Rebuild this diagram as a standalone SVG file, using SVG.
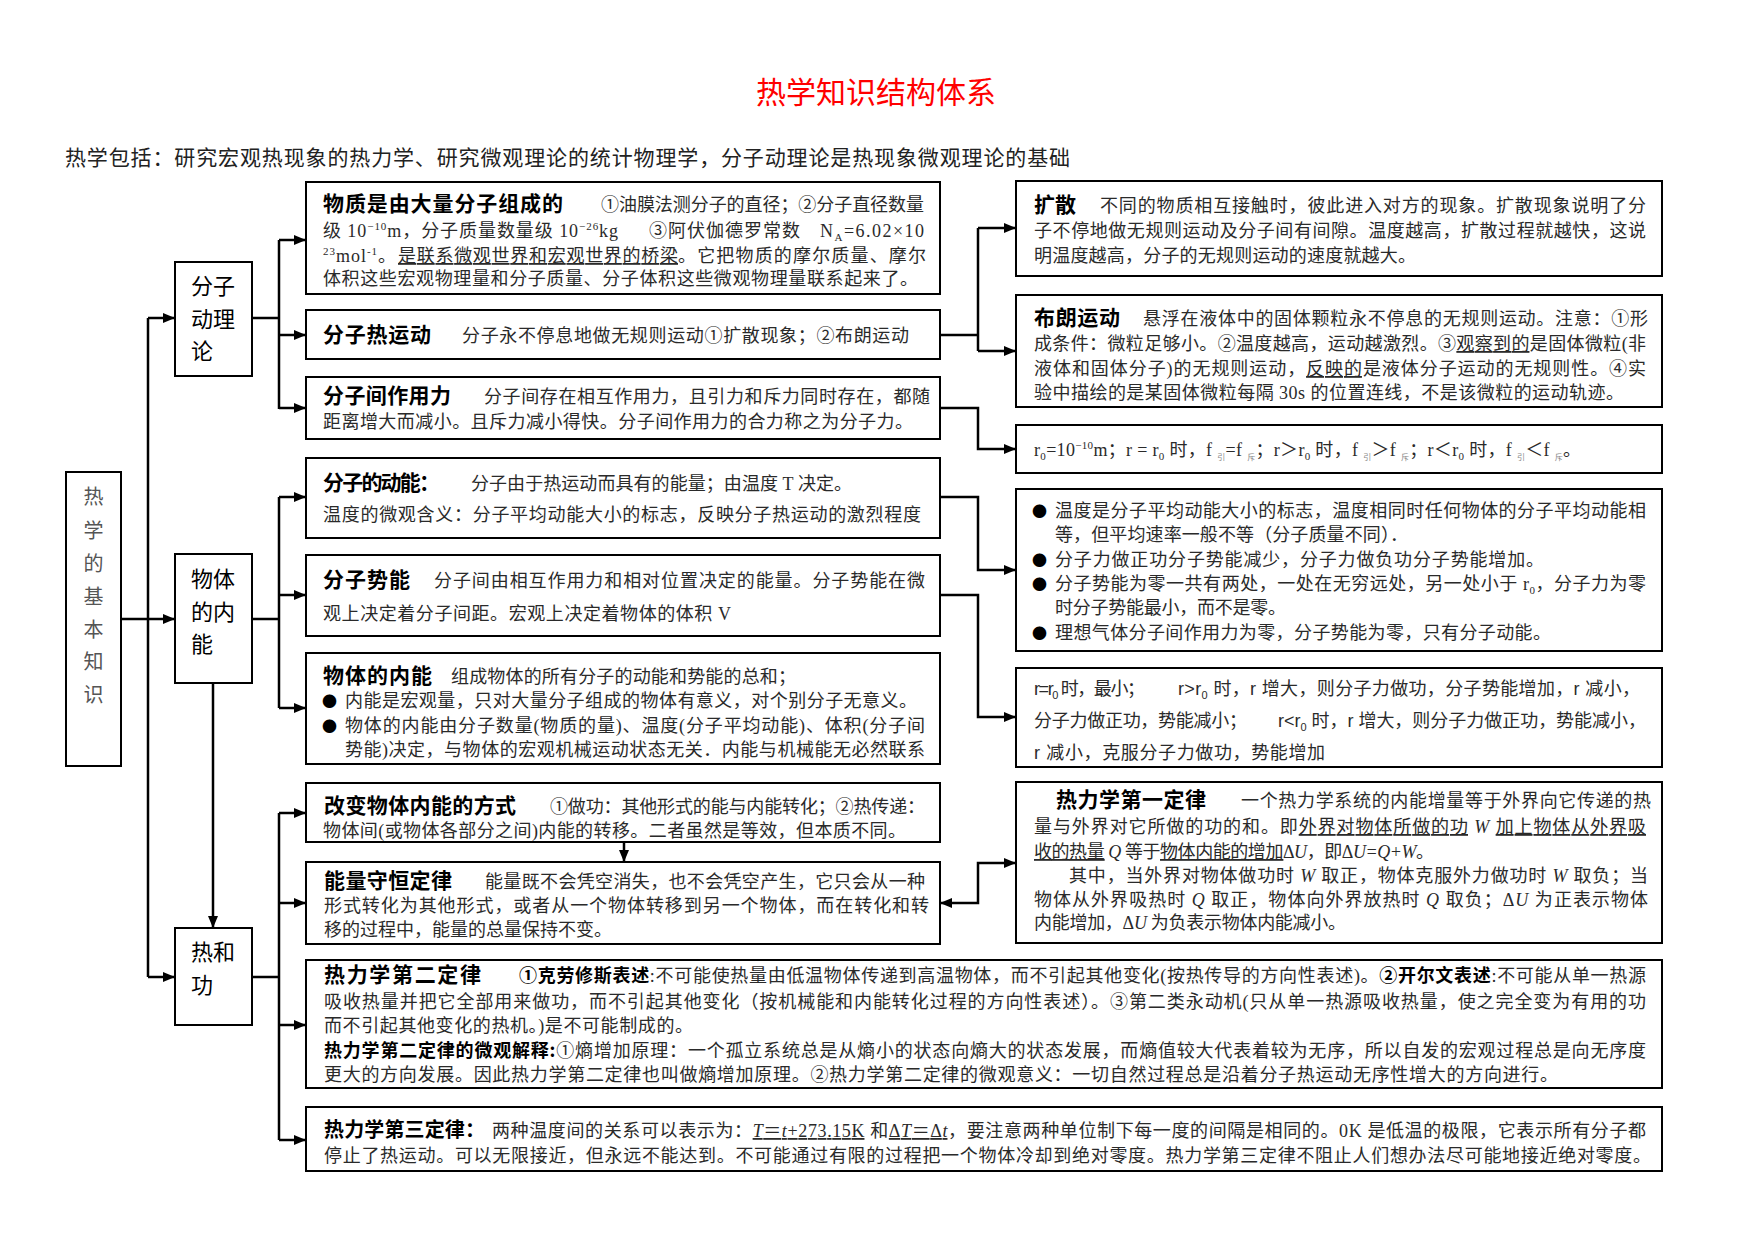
<svg xmlns="http://www.w3.org/2000/svg" width="1754" height="1241" viewBox="0 0 1754 1241">
<style>
.box{fill:#fff;stroke:#000;stroke-width:2}
.c{fill:none;stroke:#000;stroke-width:2.5}
.ca{fill:none;stroke:#000;stroke-width:2.5;marker-end:url(#ah)}
.t{font-family:"Liberation Serif","Noto Sans CJK SC",serif;font-size:18px;fill:#2a2a2a}
.s{font-family:"Liberation Sans","Noto Sans CJK SC",sans-serif;font-size:18px;fill:#2a2a2a}
.h{font-family:"Noto Sans CJK SC",sans-serif;font-weight:bold;font-size:21px;fill:#000}
.b{font-family:"Noto Sans CJK SC",sans-serif;font-weight:bold;fill:#000}
.lbl{font-family:"Noto Sans CJK SC",sans-serif;font-size:22px;fill:#000}
.main{font-family:"Noto Sans CJK SC",sans-serif;font-size:20px;fill:#555}
.u{text-decoration:underline}
.uw{text-decoration:underline wavy}
.ud{text-decoration:underline dotted}
.i{font-style:italic}
.bul{font-family:"Noto Sans CJK SC",sans-serif;font-size:15px;fill:#000}
</style>
<defs>
<marker id="ah" viewBox="0 0 12 10" refX="12" refY="5" markerWidth="12" markerHeight="10" markerUnits="userSpaceOnUse" orient="auto-start-reverse"><path d="M0,0 L12,5 L0,10 z" fill="#000"/></marker>
</defs>
<rect width="1754" height="1241" fill="#fff"/>

<g id="title">
<text x="876" y="103" text-anchor="middle" style="font-family:'Noto Sans CJK SC',sans-serif;font-size:30px;fill:#f00">热学知识结构体系</text>
<text x="65" y="165" textLength="1005" style="font-family:'Noto Sans CJK SC',sans-serif;font-size:21px;fill:#222">热学包括：研究宏观热现象的热力学、研究微观理论的统计物理学，分子动理论是热现象微观理论的基础</text>
</g>

<g id="connectors">
<path class="c" d="M148,318 V977"/>
<path class="ca" d="M121,619 H175"/>
<path class="ca" d="M148,318 H175"/>
<path class="ca" d="M148,977 H175"/>
<path class="ca" d="M213,683 V928"/>
<path class="c" d="M252,318 H279 M279,240 V409"/>
<path class="ca" d="M279,240 H306"/>
<path class="ca" d="M279,335 H306"/>
<path class="ca" d="M279,408 H306"/>
<path class="c" d="M252,619 H279 M279,497 V708"/>
<path class="ca" d="M279,497 H306"/>
<path class="ca" d="M279,595 H306"/>
<path class="ca" d="M279,708 H306"/>
<path class="c" d="M252,977 H279 M279,813 V1140"/>
<path class="ca" d="M279,813 H306"/>
<path class="ca" d="M279,903 H306"/>
<path class="ca" d="M279,1025 H306"/>
<path class="ca" d="M279,1140 H306"/>
<path class="ca" d="M624,842 V862"/>
<path class="c" d="M940,335 H978 M978,228 V351"/>
<path class="ca" d="M978,228 H1016"/>
<path class="ca" d="M978,351 H1016"/>
<path class="ca" d="M940,408 H978 V449 H1016"/>
<path class="ca" d="M940,497 H978 V570 H1016"/>
<path class="ca" d="M940,595 H978 V717 H1016"/>
<path class="ca" d="M1016,863 H978 V903 H940" style="marker-start:url(#ah)"/>
</g>

<g id="n-main">
<rect class="box" x="66" y="472" width="55" height="294"/>
<text class="main" x="93.5" text-anchor="middle"><tspan x="93.5" y="504">热</tspan><tspan x="93.5" y="538">学</tspan><tspan x="93.5" y="571">的</tspan><tspan x="93.5" y="604">基</tspan><tspan x="93.5" y="637">本</tspan><tspan x="93.5" y="669">知</tspan><tspan x="93.5" y="702">识</tspan></text>
</g>

<g id="n-fzdll">
<rect class="box" x="175" y="262" width="77" height="114"/>
<text class="lbl"><tspan x="191" y="294">分子</tspan><tspan x="191" y="327">动理</tspan><tspan x="191" y="359">论</tspan></text>
</g>

<g id="n-wtdnn">
<rect class="box" x="175" y="554" width="77" height="129"/>
<text class="lbl"><tspan x="191" y="587">物体</tspan><tspan x="191" y="620">的内</tspan><tspan x="191" y="652">能</tspan></text>
</g>

<g id="n-rhg">
<rect class="box" x="175" y="928" width="77" height="97"/>
<text class="lbl"><tspan x="191" y="960">热和</tspan><tspan x="191" y="993">功</tspan></text>
</g>

<g id="m1">
<rect class="box" x="306" y="182" width="634" height="112"/>
<text class="h" x="323" y="211" textLength="240">物质是由大量分子组成的</text>
<text class="t" x="601" y="211" textLength="323">①油膜法测分子的直径；②分子直径数量</text>
<text class="t" x="323" y="237" textLength="295">级 10<tspan dy="-7" font-size="11">−10</tspan><tspan dy="7">m，分子质量数量级 10</tspan><tspan dy="-7" font-size="11">−26</tspan><tspan dy="7">kg</tspan></text>
<text class="t" x="649" y="237" textLength="151">③阿伏伽德罗常数</text>
<text class="t" x="820" y="237" textLength="104">N<tspan dy="4" font-size="11">A</tspan><tspan dy="-4">=6.02×10</tspan></text>
<text class="t" x="323" y="262" textLength="73"><tspan dy="-7" font-size="11">23</tspan><tspan dy="7">mol</tspan><tspan dy="-7" font-size="11">-1</tspan><tspan dy="7">。</tspan></text>
<text class="t u" x="398" y="262" textLength="280">是联系微观世界和宏观世界的桥梁</text>
<text class="t" x="678" y="262" textLength="248">。它把物质的摩尔质量、摩尔</text>
<text class="t" x="323" y="285" textLength="595">体积这些宏观物理量和分子质量、分子体积这些微观物理量联系起来了。</text>
</g>

<g id="m2">
<rect class="box" x="306" y="310" width="634" height="49"/>
<text class="h" x="323" y="342" textLength="108">分子热运动</text>
<text class="t" x="462" y="342" textLength="447">分子永不停息地做无规则运动①扩散现象；②布朗运动</text>
</g>

<g id="m3">
<rect class="box" x="306" y="377" width="634" height="62"/>
<text class="h" x="323" y="403" textLength="128">分子间作用力</text>
<text class="t" x="484" y="403" textLength="446">分子间存在相互作用力，且引力和斥力同时存在，都随</text>
<text class="t" x="323" y="428" textLength="590">距离增大而减小。且斥力减小得快。分子间作用力的合力称之为分子力。</text>
</g>

<g id="m4">
<rect class="box" x="306" y="458" width="634" height="80"/>
<text class="h" x="323" y="490" textLength="117">分子的动能：</text>
<text class="t" x="471" y="490" textLength="381">分子由于热运动而具有的能量；由温度 T 决定。</text>
<text class="t" x="323" y="521" textLength="598">温度的微观含义：分子平均动能大小的标志，反映分子热运动的激烈程度</text>
</g>

<g id="m5">
<rect class="box" x="306" y="555" width="634" height="81"/>
<text class="h" x="323" y="587" textLength="87">分子势能</text>
<text class="t" x="434" y="587" textLength="491">分子间由相互作用力和相对位置决定的能量。分子势能在微</text>
<text class="t" x="323" y="620" textLength="408">观上决定着分子间距。宏观上决定着物体的体积 V</text>
</g>

<g id="m6">
<rect class="box" x="306" y="653" width="634" height="111"/>
<text class="h" x="323" y="683" textLength="109">物体的内能</text>
<text class="t" x="451" y="683" textLength="345">组成物体的所有分子的动能和势能的总和；</text>
<text class="bul" x="322" y="707">●</text>
<text class="t" x="345" y="707" textLength="572">内能是宏观量，只对大量分子组成的物体有意义，对个别分子无意义。</text>
<text class="bul" x="322" y="732">●</text>
<text class="t" x="345" y="732" textLength="580">物体的内能由分子数量(物质的量)、温度(分子平均动能)、体积(分子间</text>
<text class="t" x="345" y="756" textLength="580">势能)决定，与物体的宏观机械运动状态无关．内能与机械能无必然联系</text>
</g>

<g id="m7">
<rect class="box" x="306" y="783" width="634" height="59"/>
<text class="h" x="324" y="813" textLength="192">改变物体内能的方式</text>
<text class="t" x="550" y="813" textLength="375">①做功：其他形式的能与内能转化；②热传递：</text>
<text class="t" x="323" y="837" textLength="583">物体间(或物体各部分之间)内能的转移。二者虽然是等效，但本质不同。</text>
</g>

<g id="m8">
<rect class="box" x="306" y="862" width="634" height="82"/>
<text class="h" x="324" y="888" textLength="128">能量守恒定律</text>
<text class="t" x="485" y="888" textLength="440">能量既不会凭空消失，也不会凭空产生，它只会从一种</text>
<text class="t" x="324" y="912" textLength="605">形式转化为其他形式，或者从一个物体转移到另一个物体，而在转化和转</text>
<text class="t" x="324" y="936" textLength="288">移的过程中，能量的总量保持不变。</text>
</g>

<g id="m9">
<rect class="box" x="306" y="960" width="1356" height="128"/>
<text class="h" x="324" y="982" textLength="157">热力学第二定律</text>
<text class="t" x="519" y="982" textLength="1127"><tspan class="b">①克劳修斯表述</tspan>:不可能使热量由低温物体传递到高温物体，而不引起其他变化(按热传导的方向性表述)。<tspan class="b">②开尔文表述</tspan>:不可能从单一热源</text>
<text class="t" x="324" y="1008" textLength="1322">吸收热量并把它全部用来做功，而不引起其他变化（按机械能和内能转化过程的方向性表述）。③第二类永动机(只从单一热源吸收热量，使之完全变为有用的功</text>
<text class="t" x="324" y="1032" textLength="369">而不引起其他变化的热机。)是不可能制成的。</text>
<text class="t" x="324" y="1057" textLength="1322"><tspan class="b">热力学第二定律的微观解释:</tspan>①熵增加原理：一个孤立系统总是从熵小的状态向熵大的状态发展，而熵值较大代表着较为无序，所以自发的宏观过程总是向无序度</text>
<text class="t" x="324" y="1081" textLength="1234">更大的方向发展。因此热力学第二定律也叫做熵增加原理。②热力学第二定律的微观意义：一切自然过程总是沿着分子热运动无序性增大的方向进行。</text>
</g>

<g id="m10">
<rect class="box" x="306" y="1107" width="1356" height="64"/>
<text class="h" x="324" y="1137" textLength="161" style="font-size:20px">热力学第三定律：</text>
<text class="t" x="492" y="1137" textLength="1154">两种温度间的关系可以表示为：<tspan class="u"><tspan class="i">T</tspan>＝<tspan class="i">t</tspan>+273.15K</tspan> 和<tspan class="u">Δ<tspan class="i">T</tspan>＝Δ<tspan class="i">t</tspan></tspan>，要注意两种单位制下每一度的间隔是相同的。0K 是低温的极限，它表示所有分子都</text>
<text class="t" x="324" y="1162" textLength="1327">停止了热运动。可以无限接近，但永远不能达到。不可能通过有限的过程把一个物体冷却到绝对零度。热力学第三定律不阻止人们想办法尽可能地接近绝对零度。</text>
</g>

<g id="r1">
<rect class="box" x="1016" y="181" width="646" height="95"/>
<text class="h" x="1034" y="212" textLength="42">扩散</text>
<text class="t" x="1100" y="212" textLength="546">不同的物质相互接触时，彼此进入对方的现象。扩散现象说明了分</text>
<text class="t" x="1034" y="237" textLength="612">子不停地做无规则运动及分子间有间隙。温度越高，扩散过程就越快，这说</text>
<text class="t" x="1034" y="262" textLength="382">明温度越高，分子的无规则运动的速度就越大。</text>
</g>

<g id="r2">
<rect class="box" x="1016" y="295" width="646" height="112"/>
<text class="h" x="1034" y="325" textLength="86">布朗运动</text>
<text class="t" x="1143" y="325" textLength="505">悬浮在液体中的固体颗粒永不停息的无规则运动。注意：①形</text>
<text class="t" x="1034" y="350" textLength="612">成条件：微粒足够小。②温度越高，运动越激烈。③<tspan class="uw">观察到的</tspan>是固体微粒(非</text>
<text class="t" x="1034" y="375" textLength="612">液体和固体分子)的无规则运动，<tspan class="uw">反映的</tspan>是液体分子运动的无规则性。④实</text>
<text class="t" x="1034" y="399" textLength="590">验中描绘的是某固体微粒每隔 30s 的位置连线，不是该微粒的运动轨迹。</text>
</g>

<g id="r3">
<rect class="box" x="1016" y="425" width="646" height="48"/>
<text class="t" x="1034" y="456" textLength="547">r<tspan dy="4" font-size="11">0</tspan><tspan dy="-4">=10</tspan><tspan dy="-7" font-size="11">−10</tspan><tspan dy="7">m；r = r</tspan><tspan dy="4" font-size="11">0</tspan><tspan dy="-4"> 时，f </tspan><tspan dy="4" font-size="8" fill="#888">引</tspan><tspan dy="-4">=f </tspan><tspan dy="4" font-size="8" fill="#888">斥</tspan><tspan dy="-4">；r＞r</tspan><tspan dy="4" font-size="11">0</tspan><tspan dy="-4"> 时，f </tspan><tspan dy="4" font-size="8" fill="#888">引</tspan><tspan dy="-4">＞f </tspan><tspan dy="4" font-size="8" fill="#888">斥</tspan><tspan dy="-4">；r＜r</tspan><tspan dy="4" font-size="11">0</tspan><tspan dy="-4"> 时，f </tspan><tspan dy="4" font-size="8" fill="#888">引</tspan><tspan dy="-4">＜f </tspan><tspan dy="4" font-size="8" fill="#888">斥</tspan><tspan dy="-4">。</tspan></text>
</g>

<g id="r4">
<rect class="box" x="1016" y="489" width="646" height="162"/>
<text class="bul" x="1032" y="517">●</text>
<text class="t" x="1055" y="517" textLength="591">温度是分子平均动能大小的标志，温度相同时任何物体的分子平均动能相</text>
<text class="t" x="1055" y="541" textLength="353">等，但平均速率一般不等（分子质量不同）．</text>
<text class="bul" x="1032" y="566">●</text>
<text class="t" x="1055" y="566" textLength="489">分子力做正功分子势能减少，分子力做负功分子势能增加。</text>
<text class="bul" x="1032" y="590">●</text>
<text class="t" x="1055" y="590" textLength="591">分子势能为零一共有两处，一处在无穷远处，另一处小于 r<tspan dy="4" font-size="11">0</tspan><tspan dy="-4">，分子力为零</tspan></text>
<text class="t" x="1055" y="614" textLength="231">时分子势能最小，而不是零。</text>
<text class="bul" x="1032" y="639">●</text>
<text class="t" x="1055" y="639" textLength="496">理想气体分子间作用力为零，分子势能为零，只有分子动能。</text>
</g>

<g id="r5">
<rect class="box" x="1016" y="668" width="646" height="99"/>
<text class="s" x="1034" y="695" textLength="111">r=r<tspan dy="4" font-size="11">0</tspan><tspan dy="-4"> 时，最小；</tspan></text>
<text class="s" x="1178" y="695" textLength="462">r&gt;r<tspan dy="4" font-size="11">0</tspan><tspan dy="-4"> 时，r 增大，则分子力做功，分子势能增加，r 减小，</tspan></text>
<text class="s" x="1034" y="727" textLength="213">分子力做正功，势能减小；</text>
<text class="s" x="1278" y="727" textLength="368">r&lt;r<tspan dy="4" font-size="11">0</tspan><tspan dy="-4"> 时，r 增大，则分子力做正功，势能减小，</tspan></text>
<text class="s" x="1034" y="759" textLength="291">r 减小，克服分子力做功，势能增加</text>
</g>

<g id="r6">
<rect class="box" x="1016" y="782" width="646" height="161"/>
<text class="h" x="1056" y="807" textLength="150">热力学第一定律</text>
<text class="t" x="1241" y="807" textLength="410">一个热力学系统的内能增量等于外界向它传递的热</text>
<text class="t" x="1034" y="833" textLength="612">量与外界对它所做的功的和。即<tspan class="ud">外界对物体所做的功</tspan> <tspan class="i">W</tspan> <tspan class="ud">加上物体从外界吸</tspan></text>
<text class="t" x="1034" y="858" textLength="400"><tspan class="ud">收的热量</tspan> <tspan class="i">Q</tspan> 等于<tspan class="ud">物体内能的增加</tspan>Δ<tspan class="i">U</tspan>，即Δ<tspan class="i">U=Q+W</tspan>。</text>
<text class="t" x="1069" y="882" textLength="579">其中，当外界对物体做功时 <tspan class="i">W</tspan> 取正，物体克服外力做功时 <tspan class="i">W</tspan> 取负；当</text>
<text class="t" x="1034" y="906" textLength="614">物体从外界吸热时 <tspan class="i">Q</tspan> 取正，物体向外界放热时 <tspan class="i">Q</tspan> 取负；Δ<tspan class="i">U</tspan> 为正表示物体</text>
<text class="t" x="1034" y="929" textLength="312">内能增加，Δ<tspan class="i">U</tspan> 为负表示物体内能减小。</text>
</g>
</svg>
